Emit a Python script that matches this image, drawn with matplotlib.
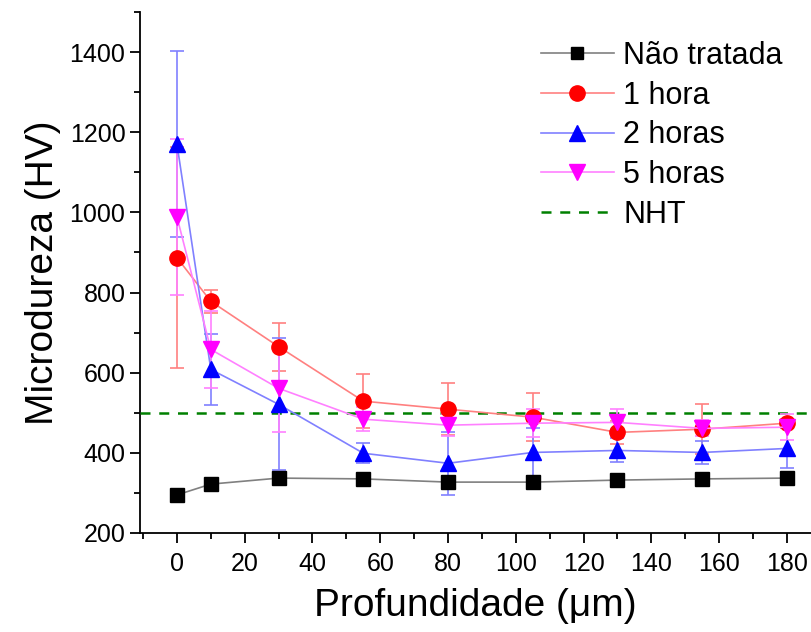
import matplotlib.pyplot as plt
from matplotlib.lines import Line2D
from matplotlib.ticker import MultipleLocator

plt.rcParams['font.family'] = ['Liberation Sans', 'DejaVu Sans']

# profundidade (um)
depth = [0, 10, 30, 55, 80, 105, 130, 155, 180]

# microdureza (HV)
nao_tratada = [295, 322, 337, 335, 327, 327, 332, 335, 337]
hora1 = [887, 778, 665, 529, 509, 489, 451, 459, 474]
hora1_err = [276, 29, 60, 67, 65, 60, 28, 62, 10]
horas2 = [1171, 608, 521, 399, 374, 401, 406, 401, 411]
horas2_err = [232, 88, 165, 25, 78, 60, 30, 29, 50]
horas5 = [989, 658, 561, 484, 469, 474, 476, 461, 464]
horas5_err = [195, 95, 110, 30, 28, 35, 33, 20, 33]
nht = 500

fig = plt.figure(figsize=(8.11, 6.32), dpi=100)
ax = fig.add_axes([140 / 811, 99 / 632, 671 / 811, 521 / 632])

handles = []
ax.plot(depth, nao_tratada, color='#808080', lw=1.2, marker='s', ms=10,
        mfc='black', mec='black', zorder=5)
handles.append(Line2D([], [], color='#808080', lw=1.2, marker='s', ms=9,
                      mfc='black', mec='black', label='Não tratada'))

series = [
    (hora1, hora1_err, 'red', '#ff8080', 'o', '1 hora'),
    (horas2, horas2_err, 'blue', '#8080ff', '^', '2 horas'),
    (horas5, horas5_err, 'magenta', '#ff80ff', 'v', '5 horas'),
]
for y, err, c, lc, m, lab in series:
    ax.errorbar(depth, y, yerr=err, color=lc, ecolor=lc, elinewidth=1.2,
                capsize=5, capthick=1.2, lw=1.2, marker=m, ms=11,
                mfc=c, mec=c, zorder=4)
    handles.append(Line2D([], [], color=lc, lw=1.2, marker=m, ms=11,
                          mfc=c, mec=c, label=lab))

ax.axhline(nht, color='green', ls=(0, (4, 3.5)), lw=1.8, zorder=3)
handles.append(Line2D([], [], color='green', ls=(0, (4, 3.5)), lw=1.8, label='NHT'))

ax.set_xlim(-10.9, 187.1)
ax.set_ylim(200, 1500)
ax.set_xticks(range(0, 181, 20))
ax.set_yticks(range(200, 1401, 200))
ax.xaxis.set_minor_locator(MultipleLocator(10))
ax.yaxis.set_minor_locator(MultipleLocator(100))
ax.tick_params(which='major', direction='out', length=7, width=1.3, labelsize=18)
ax.tick_params(axis='x', which='major', pad=7)
ax.tick_params(which='minor', direction='out', length=4, width=1.3)
for s in ['top', 'right']:
    ax.spines[s].set_visible(False)
for s in ['left', 'bottom']:
    ax.spines[s].set_linewidth(1.3)

ax.set_xlabel('Profundidade (μm)', fontsize=28, labelpad=8)
ax.set_ylabel('Microdureza (HV)', fontsize=28, labelpad=6)

ax.legend(handles=handles, loc='upper right', frameon=False, fontsize=22,
          handlelength=2.4, handletextpad=0.3, labelspacing=0.32,
          borderaxespad=0.2, bbox_to_anchor=(0.985, 0.98))

fig.savefig('out.png', dpi=100)
